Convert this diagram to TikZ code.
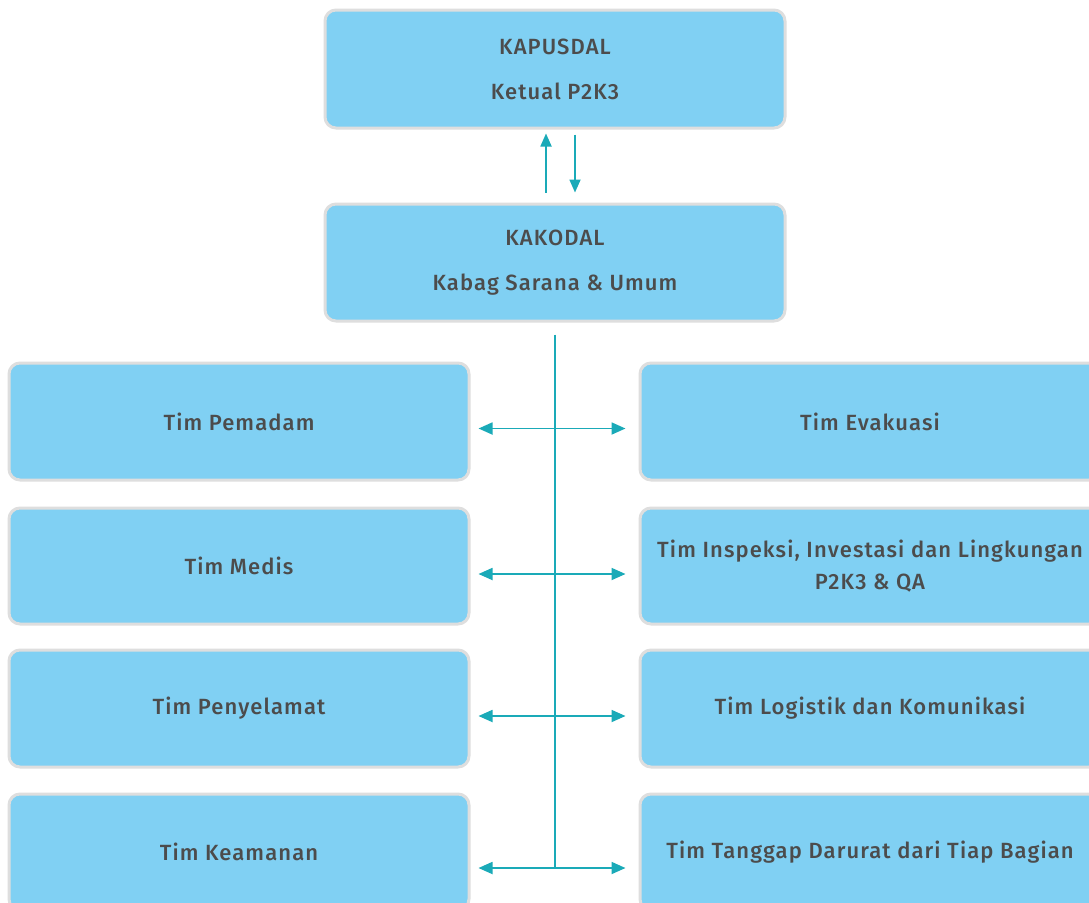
\documentclass[tikz,border=0pt]{standalone}
\usepackage{fontspec}
\setmainfont{Fira Sans Medium}[LetterSpace=5]
\usetikzlibrary{arrows.meta}
\definecolor{boxblue}{RGB}{128,208,243}
\definecolor{boxedge}{RGB}{222,222,222}
\definecolor{txtgray}{RGB}{76,76,76}
\definecolor{teal}{RGB}{26,170,184}
\tikzset{
  orgbox/.style={draw=boxedge, line width=3pt, rounded corners=11pt, fill=boxblue,
    text=txtgray, font=\fontsize{22}{32}\selectfont, align=center,
    minimum width=460pt, inner sep=0pt},
  link/.style={draw=teal, line width=1.8pt},
  tip/.style={-{Triangle[length=13pt,width=11pt]}},
  tips/.style={{Triangle[length=14pt,width=12pt]}-{Triangle[length=14pt,width=12pt]}}
}
\begin{document}
\begin{tikzpicture}[x=1pt,y=-1pt]
\useasboundingbox[fill=white] (0,0) rectangle (1089,902);
\node[orgbox, minimum height=118pt] (T) at (555,69) {KAPUSDAL\\[13pt]Ketual P2K3};
\node[orgbox, minimum height=117pt] (K) at (555,262.5) {KAKODAL\\[13pt]Kabag Sarana \& Umum};
\node[orgbox, minimum height=117pt] (L1) at (239,421.5) {Tim Pemadam};
\node[orgbox, minimum height=116pt] (L2) at (239,566) {Tim Medis};
\node[orgbox, minimum height=117pt] (L3) at (239,708.5) {Tim Penyelamat};
\node[orgbox, minimum height=116pt] (L4) at (239,852) {Tim Keamanan};
\node[orgbox, minimum height=117pt] (R1) at (870,421.5) {Tim Evakuasi};
\node[orgbox, minimum height=116pt] (R2) at (870,566) {Tim Inspeksi, Investasi dan Lingkungan\\P2K3 \& QA};
\node[orgbox, minimum height=117pt] (R3) at (870,708.5) {Tim Logistik dan Komunikasi};
\node[orgbox, minimum height=116pt] (R4) at (870,852) {Tim Tanggap Darurat dari Tiap Bagian};
% up / down arrows
\draw[link, tip, shorten <=10pt, shorten >=4pt] ([xshift=-9pt]K.north) -- ([xshift=-9pt]T.south);
\draw[link, tip, shorten <=5pt, shorten >=10pt] ([xshift=20pt]T.south) -- ([xshift=20pt]K.north);
% trunk
\coordinate (trunkend) at (555,868);
\draw[link, shorten <=12pt] (K.south) -- (trunkend);
% branches
\draw[link, tips, shorten <=8pt, shorten >=13pt] ([yshift=-7pt]L1.east) -- ([yshift=-7pt]R1.west);
\draw[link, tips, shorten <=8pt, shorten >=13pt] ([yshift=-8pt]L2.east) -- ([yshift=-8pt]R2.west);
\draw[link, tips, shorten <=8pt, shorten >=13pt] ([yshift=-7.5pt]L3.east) -- ([yshift=-7.5pt]R3.west);
\draw[link, tips, shorten <=8pt, shorten >=13pt] ([yshift=-16pt]L4.east) -- ([yshift=-16pt]R4.west);
\end{tikzpicture}
\end{document}
